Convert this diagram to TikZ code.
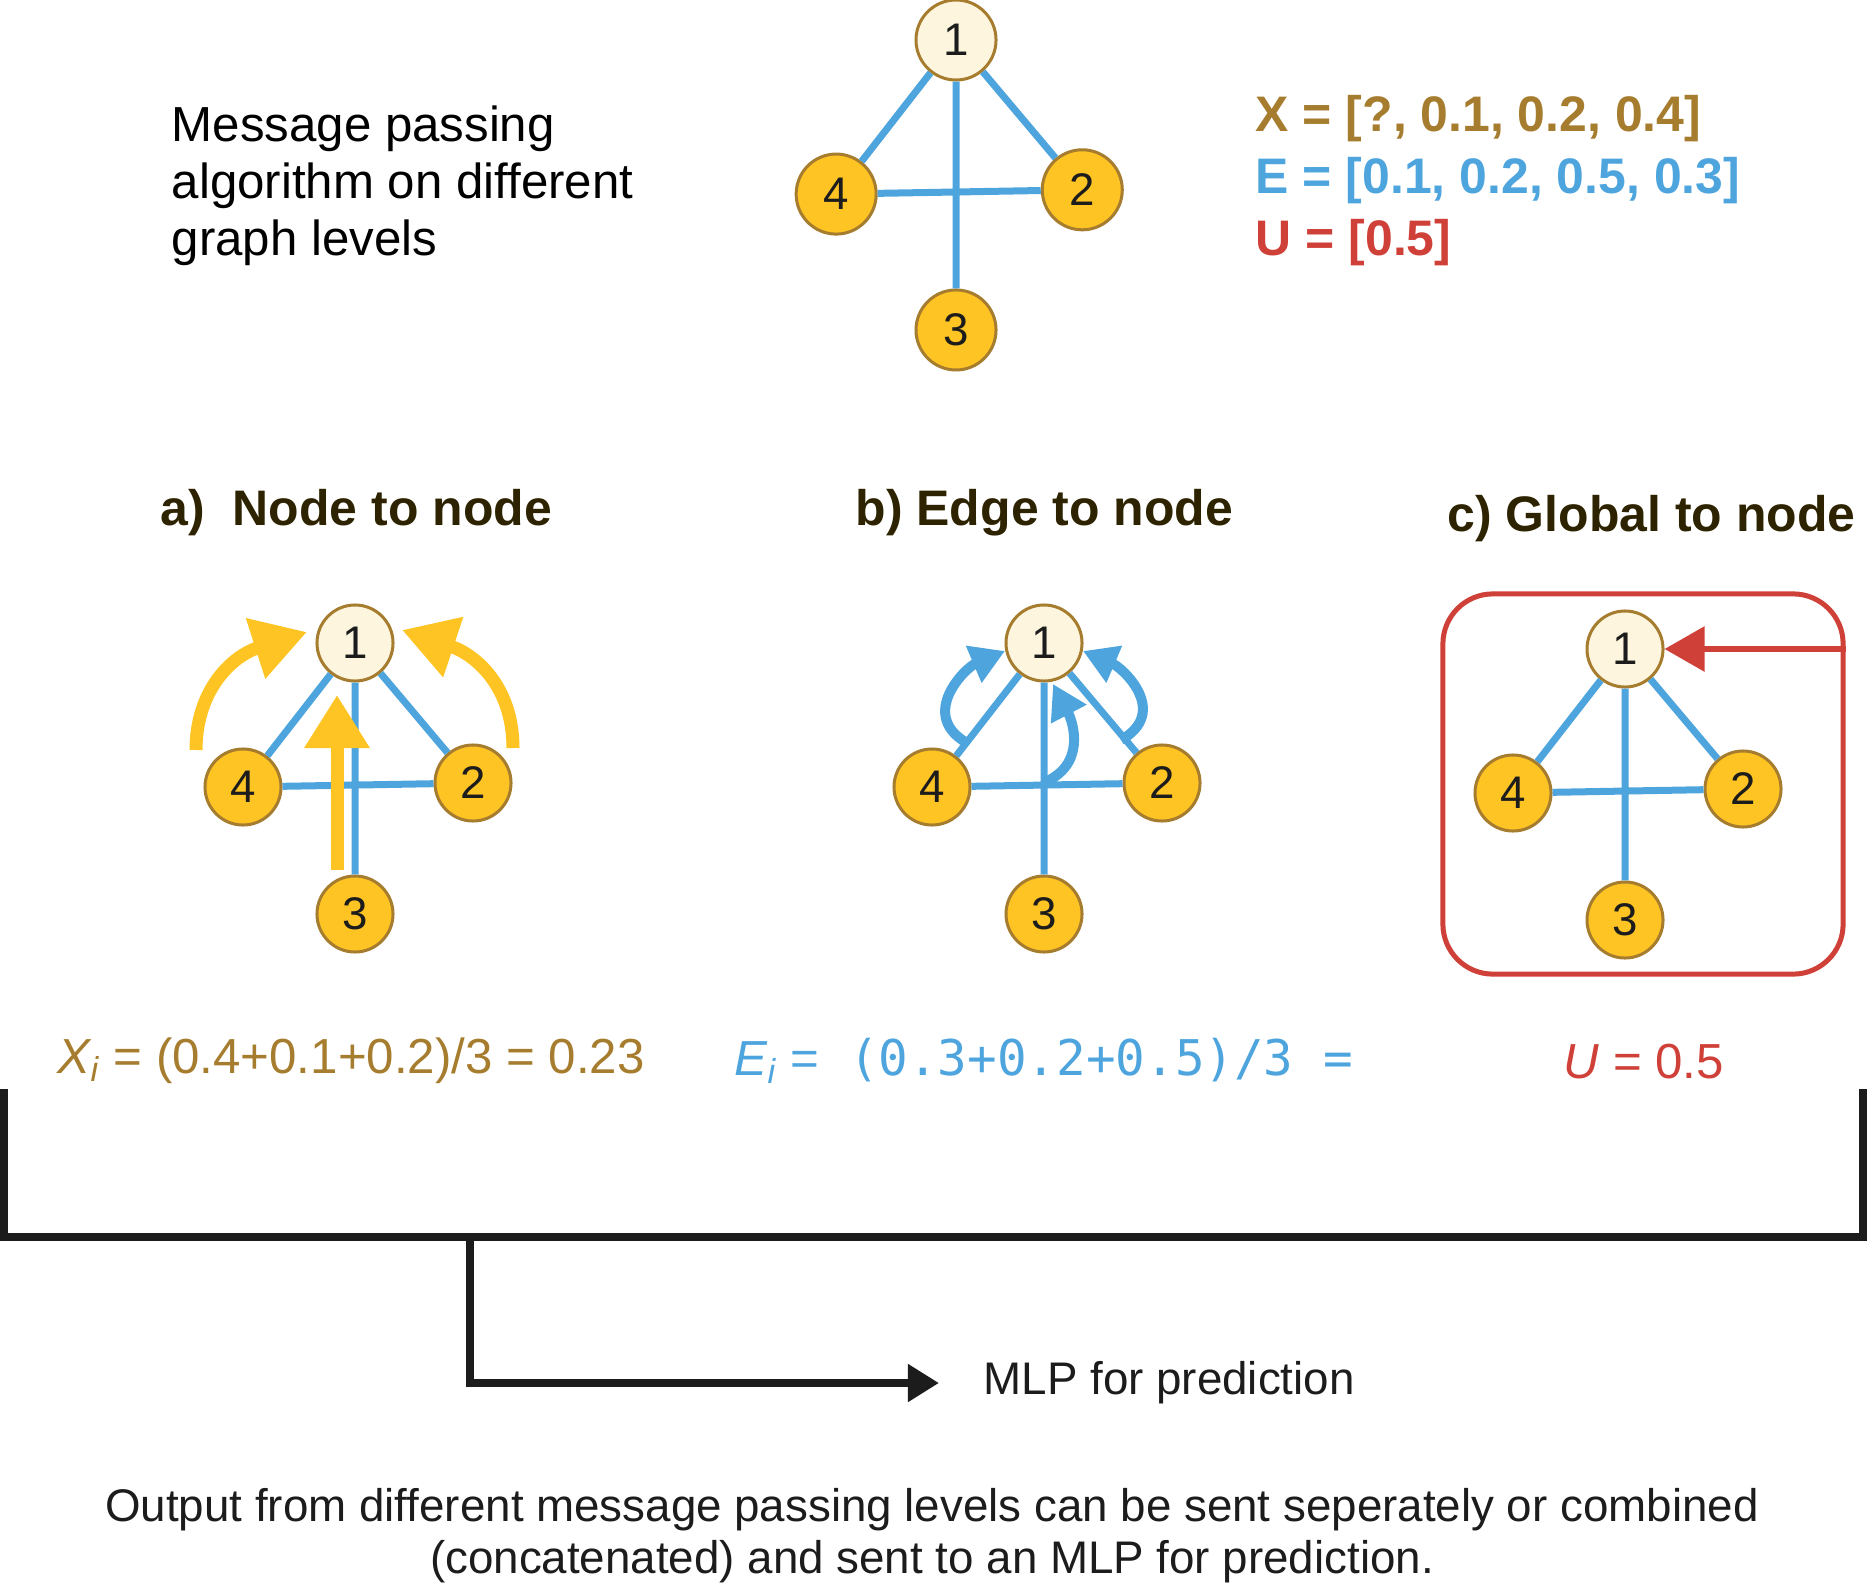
\documentclass[tikz,border=0pt]{standalone}
\usepackage{fontspec}
\setmainfont{Liberation Sans}
\newfontfamily\codefont{DejaVu Sans Mono}
\usetikzlibrary{arrows.meta,calc}

\definecolor{nodeyellow}{RGB}{253,196,35}
\definecolor{nodecream}{RGB}{254,245,222}
\definecolor{nodebrown}{RGB}{166,124,46}
\definecolor{edgeblue}{RGB}{78,165,222}
\definecolor{globalred}{RGB}{207,64,56}
\definecolor{titledark}{RGB}{46,35,0}
\definecolor{inkblack}{RGB}{28,28,28}

\begin{document}
\begin{tikzpicture}[x=0.01cm,y=-0.01cm,
  gnode/.style={circle,draw=nodebrown,line width=0.03cm,fill=nodeyellow,
    inner sep=0pt,text=inkblack,font=\fontsize{13}{13}\selectfont},
  gsource/.style={gnode,fill=nodecream},
  gedge/.style={edgeblue,line width=0.07cm},
  paneltitle/.style={anchor=west,inner sep=0pt,text=titledark,
    font=\bfseries\fontsize{14.2}{16}\selectfont},
  vecline/.style={anchor=base west,inner sep=0pt,
    font=\bfseries\fontsize{14.2}{16}\selectfont},
  formula/.style={anchor=west,inner sep=0pt,font=\fontsize{14}{16}\selectfont},
  yellowmsg/.style={nodeyellow,line width=0.13cm},
  bluemsg/.style={edgeblue,line width=0.1cm,
    -{Triangle[length=0.34cm,width=0.38cm]}},
  bracket/.style={inkblack,line width=0.08cm}]
\useasboundingbox (0,0) rectangle (1867,1582);

% the same small graph, once on top and once in every panel
\foreach \g/\cx/\cy/\sc/\r in {t/956/40/1.07/0.80cm,a/355/643/1/0.76cm,
                                b/1044/643/1/0.76cm,c/1625/649/1/0.76cm}{
  \node[gsource,minimum size=\r] (\g1) at (\cx,\cy) {1};
  \node[gnode,minimum size=\r] (\g4) at ({\cx-112*\sc},{\cy+144*\sc}) {4};
  \node[gnode,minimum size=\r] (\g2) at ({\cx+118*\sc},{\cy+140*\sc}) {2};
  \node[gnode,minimum size=\r] (\g3) at ({\cx},{\cy+271*\sc}) {3};
  \draw[gedge] (\g1) -- (\g4) (\g1) -- (\g2) (\g1) -- (\g3) (\g4) -- (\g2);
}

\node[anchor=west,align=left,inner sep=0pt,font=\fontsize{14}{16.2}\selectfont]
  (intro) at (171,186) {Message passing\\algorithm on different\\graph levels};
\node[vecline,text=nodebrown] (xvec) at (1255,132) {X = [?, 0.1, 0.2, 0.4]};
\node[vecline,text=edgeblue] (evec) at (1255,193) {E = [0.1, 0.2, 0.5, 0.3]};
\node[vecline,text=globalred] (uvec) at (1255,255) {U = [0.5]};

\node[paneltitle] (ttla) at (160,513) {a)\ \ Node to node};
\node[paneltitle] (ttlb) at (855,513) {b) Edge to node};
\node[paneltitle] (ttlc) at (1447,519) {c) Global to node};

% a) neighbour features flow into node 1
\draw[yellowmsg,-{Triangle[length=0.54cm,width=0.6cm]}]
  (196,750) .. controls (196,690) and (232,656) .. (307,632);
\draw[yellowmsg,-{Triangle[length=0.54cm,width=0.6cm]}]
  (513,748) .. controls (513,688) and (477,655) .. (402,630);
\draw[yellowmsg,-{Triangle[length=0.53cm,width=0.62cm]}] (337,870) -- (337,695);

% b) edge features flow into node 1
\draw[bluemsg] (967,743) .. controls (918,715) and (965,668) .. (1005,651);
\draw[bluemsg] (1121,740) .. controls (1170,712) and (1123,668) .. (1083,651);
\draw[bluemsg] (1043,783) .. controls (1087,765) and (1073,722) .. (1053,684);

% c) the global value reaches node 1
\node[draw=globalred,line width=0.05cm,rounded corners=0.5cm,
  minimum width=4cm,minimum height=3.8cm] (cbox) at (1643,784) {};
\draw[globalred,line width=0.06cm,-{Triangle[length=0.4cm,width=0.44cm]}]
  (cbox.east |- c1) -- (c1);

\node[formula,text=nodebrown] (xform) at (57,1061)
  {\textit{X\textsubscript{i}} = (0.4+0.1+0.2)/3 = 0.23};
\node[formula,text=edgeblue] (eform) at (734,1061)
  {\textit{E\textsubscript{i}} ={\codefont\fontsize{14}{16}\selectfont\ (0.3+0.2+0.5)/3 =}};
\node[formula,text=globalred] (uform) at (1563,1062) {\textit{U} = 0.5};

% outputs are gathered and passed on
\coordinate (brl) at (4,1089);
\coordinate (brr) at (1863,1089);
\coordinate (brm) at (470,1237);
\node[anchor=west,inner sep=0pt,text=inkblack,font=\fontsize{13}{15}\selectfont]
  (mlp) at (983,1383) {MLP for prediction};
\draw[bracket] (brl) -- (brl |- brm) -- (brr |- brm) -- (brr);
\draw[bracket,shorten >=0.44cm,-{Triangle[length=0.31cm,width=0.36cm]}]
  (brm) |- (mlp.west);

\node[align=center,text=inkblack,font=\fontsize{13}{14.8}\selectfont] (outro)
  at (932,1536) {Output from different message passing levels can be sent seperately or combined\\
  (concatenated) and sent to an MLP for prediction.};
\end{tikzpicture}
\end{document}
